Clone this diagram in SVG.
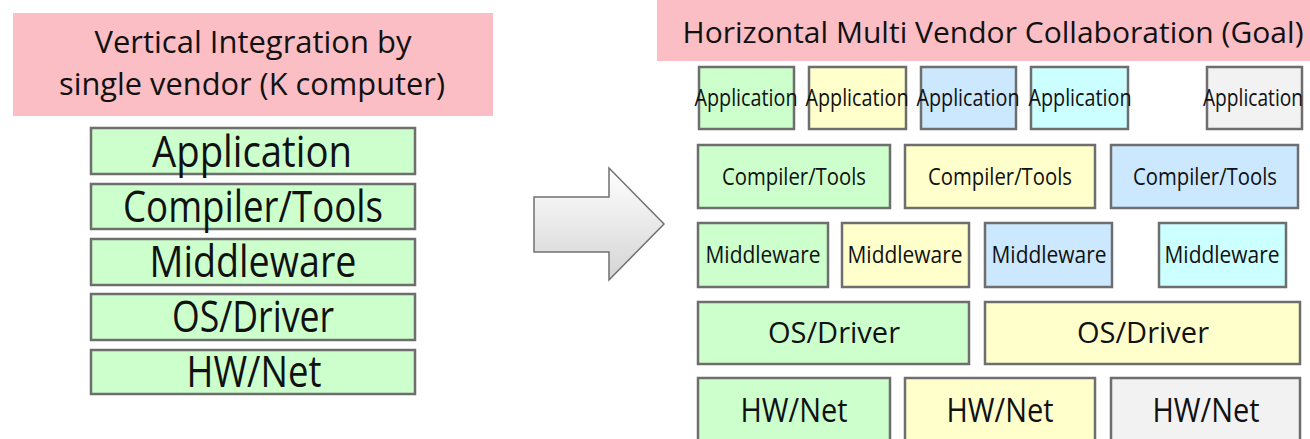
<svg xmlns="http://www.w3.org/2000/svg" width="1310" height="439" viewBox="0 0 1310 439">
  <defs>
    <linearGradient id="arrowFill" x1="0" y1="0" x2="0" y2="1">
      <stop offset="0" stop-color="#ffffff"/>
      <stop offset="1" stop-color="#d4d4d4"/>
    </linearGradient>
    <style>
      text { font-family: "Open Sans", "Noto Sans", "DejaVu Sans", sans-serif; fill: #111; text-anchor: middle; }
      .title { fill: #fbbec4; }
      .box { stroke: #6e6e6e; stroke-width: 2.5; }
      .g { fill: #ccffcc; }
      .y { fill: #ffffcc; }
      .b { fill: #cce8ff; }
      .c { fill: #ccffff; }
      .w { fill: #f2f2f2; }
      .big { font-size: 44px; }
      .head { font-size: 31px; }
      .app { font-size: 23px; }
      .cmp { font-size: 23px; }
      .mid { font-size: 23px; }
      .os { font-size: 30px; }
      .hw { font-size: 32px; }
    </style>
  </defs>

  <rect width="1310" height="439" fill="#ffffff"/>

  <!-- Left: single vendor stack -->
  <g id="left-title">
    <rect class="title" x="13" y="13" width="480" height="103"/>
    <text class="head" x="253" y="53" textLength="317" lengthAdjust="spacingAndGlyphs">Vertical Integration by</text>
    <text class="head" x="252" y="95" textLength="386" lengthAdjust="spacingAndGlyphs">single vendor (K computer)</text>
  </g>
  <g id="left-application">
    <rect class="box g" x="91" y="128" width="324" height="46"/>
    <text class="big" x="252" y="167" textLength="200" lengthAdjust="spacingAndGlyphs">Application</text>
  </g>
  <g id="left-compiler">
    <rect class="box g" x="91" y="184" width="324" height="45"/>
    <text class="big" x="253" y="222" textLength="260" lengthAdjust="spacingAndGlyphs">Compiler/Tools</text>
  </g>
  <g id="left-middleware">
    <rect class="box g" x="91" y="239" width="324" height="46"/>
    <text class="big" x="253" y="277" textLength="207" lengthAdjust="spacingAndGlyphs">Middleware</text>
  </g>
  <g id="left-os">
    <rect class="box g" x="91" y="294" width="324" height="46"/>
    <text class="big" x="253" y="332" textLength="162" lengthAdjust="spacingAndGlyphs">OS/Driver</text>
  </g>
  <g id="left-hw">
    <rect class="box g" x="91" y="350" width="324" height="44"/>
    <text class="big" x="254" y="387" textLength="135" lengthAdjust="spacingAndGlyphs">HW/Net</text>
  </g>

  <!-- Transition arrow -->
  <g id="connectors">
    <path d="M534,197 H609 V168 L664,224 L609,280 V252 H534 Z" fill="url(#arrowFill)" stroke="#707070" stroke-width="1.5"/>
  </g>

  <!-- Right: multi vendor layers -->
  <g id="right-title">
    <rect class="title" x="657" y="0" width="653" height="61"/>
    <text x="993" y="43" font-size="30" textLength="621" lengthAdjust="spacingAndGlyphs">Horizontal Multi Vendor Collaboration (Goal)</text>
  </g>

  <g id="app-1">
    <rect class="box g" x="699" y="67" width="95" height="62"/>
    <text class="app" x="746" y="106" textLength="103" lengthAdjust="spacingAndGlyphs">Application</text>
  </g>
  <g id="app-2">
    <rect class="box y" x="809" y="67" width="97" height="62"/>
    <text class="app" x="857" y="106" textLength="103" lengthAdjust="spacingAndGlyphs">Application</text>
  </g>
  <g id="app-3">
    <rect class="box b" x="921" y="67" width="95" height="62"/>
    <text class="app" x="968" y="106" textLength="103" lengthAdjust="spacingAndGlyphs">Application</text>
  </g>
  <g id="app-4">
    <rect class="box c" x="1031" y="67" width="97" height="62"/>
    <text class="app" x="1080" y="106" textLength="103" lengthAdjust="spacingAndGlyphs">Application</text>
  </g>
  <g id="app-5">
    <rect class="box w" x="1207" y="67" width="95" height="62"/>
    <text class="app" x="1253" y="106" textLength="100" lengthAdjust="spacingAndGlyphs">Application</text>
  </g>

  <g id="compiler-1">
    <rect class="box g" x="698" y="145" width="192" height="63"/>
    <text class="cmp" x="794" y="185" textLength="144" lengthAdjust="spacingAndGlyphs">Compiler/Tools</text>
  </g>
  <g id="compiler-2">
    <rect class="box y" x="905" y="145" width="190" height="63"/>
    <text class="cmp" x="1000" y="185" textLength="144" lengthAdjust="spacingAndGlyphs">Compiler/Tools</text>
  </g>
  <g id="compiler-3">
    <rect class="box b" x="1111" y="145" width="187" height="63"/>
    <text class="cmp" x="1205" y="185" textLength="144" lengthAdjust="spacingAndGlyphs">Compiler/Tools</text>
  </g>

  <g id="middleware-1">
    <rect class="box g" x="698" y="223" width="130" height="64"/>
    <text class="mid" x="763" y="263" textLength="115" lengthAdjust="spacingAndGlyphs">Middleware</text>
  </g>
  <g id="middleware-2">
    <rect class="box y" x="842" y="223" width="127" height="64"/>
    <text class="mid" x="905" y="263" textLength="115" lengthAdjust="spacingAndGlyphs">Middleware</text>
  </g>
  <g id="middleware-3">
    <rect class="box b" x="985" y="223" width="127" height="64"/>
    <text class="mid" x="1049" y="263" textLength="115" lengthAdjust="spacingAndGlyphs">Middleware</text>
  </g>
  <g id="middleware-4">
    <rect class="box c" x="1159" y="223" width="127" height="64"/>
    <text class="mid" x="1222" y="263" textLength="115" lengthAdjust="spacingAndGlyphs">Middleware</text>
  </g>

  <g id="os-1">
    <rect class="box g" x="698" y="302" width="271" height="62"/>
    <text class="os" x="834" y="343" textLength="132" lengthAdjust="spacingAndGlyphs">OS/Driver</text>
  </g>
  <g id="os-2">
    <rect class="box y" x="985" y="302" width="315" height="62"/>
    <text class="os" x="1143" y="343" textLength="132" lengthAdjust="spacingAndGlyphs">OS/Driver</text>
  </g>

  <g id="hw-1">
    <rect class="box g" x="698" y="378" width="192" height="70"/>
    <text class="hw" x="794" y="422" textLength="107" lengthAdjust="spacingAndGlyphs">HW/Net</text>
  </g>
  <g id="hw-2">
    <rect class="box y" x="905" y="378" width="190" height="70"/>
    <text class="hw" x="1000" y="422" textLength="107" lengthAdjust="spacingAndGlyphs">HW/Net</text>
  </g>
  <g id="hw-3">
    <rect class="box w" x="1111" y="378" width="189" height="70"/>
    <text class="hw" x="1206" y="422" textLength="107" lengthAdjust="spacingAndGlyphs">HW/Net</text>
  </g>
</svg>
